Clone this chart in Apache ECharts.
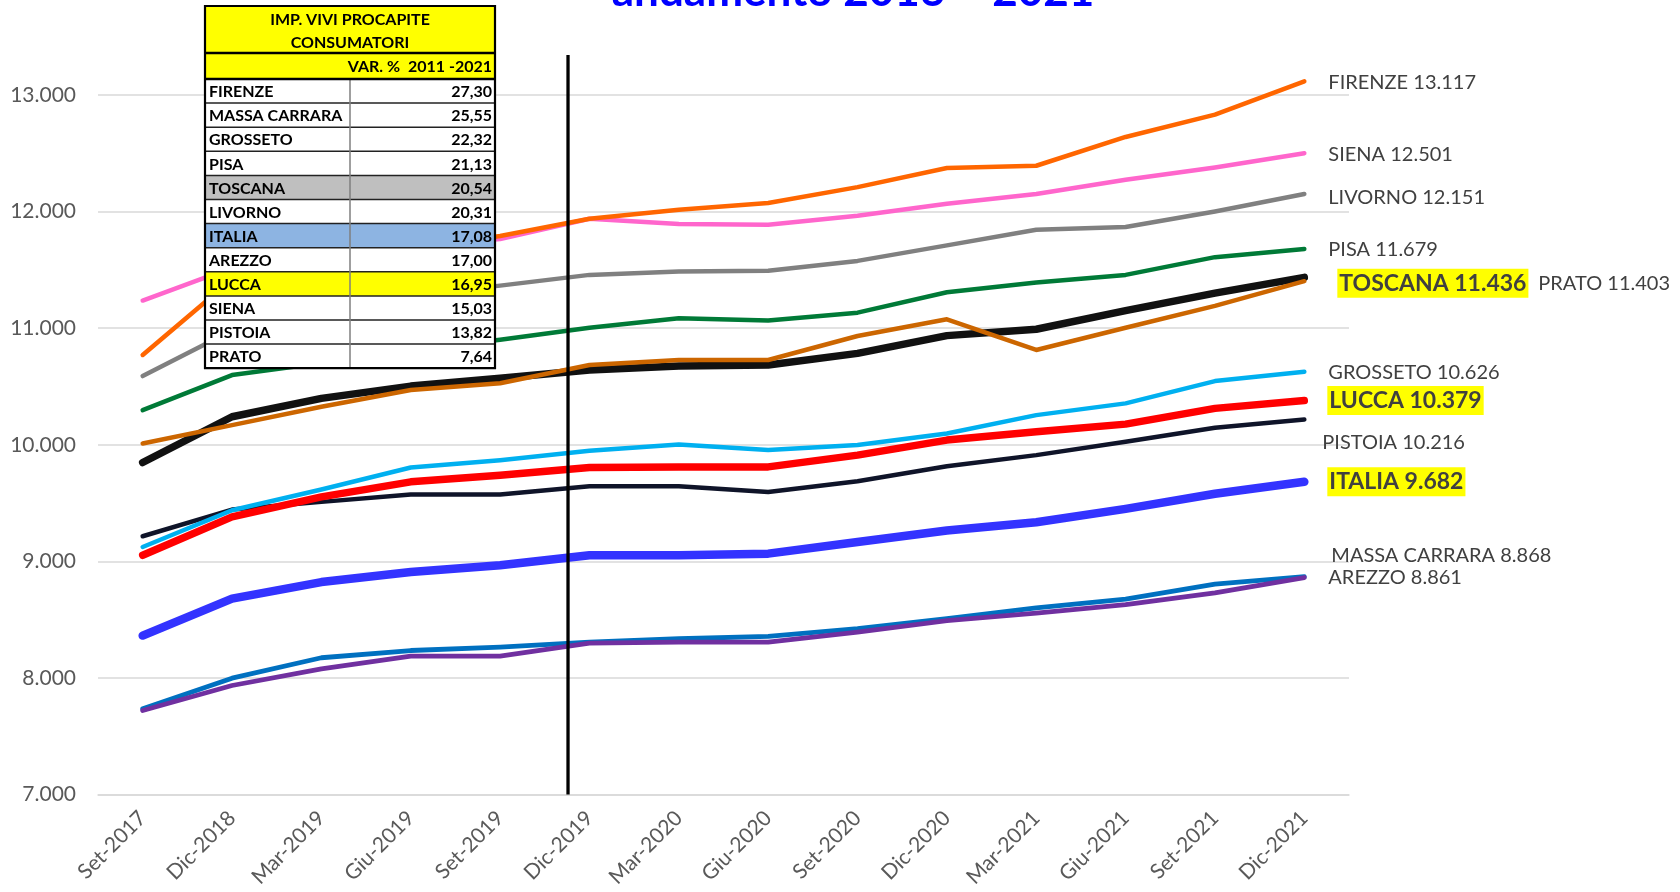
<!DOCTYPE html>
<html><head><meta charset="utf-8">
<script src="https://cdn.jsdelivr.net/npm/echarts@6/dist/echarts.min.js"></script>
<style>html,body{margin:0;padding:0;background:#fff}#c{width:1680px;height:892px}</style>
</head><body><div id="c"></div><script>
// ---------- DATA ----------
const categories = ['Set-2017','Dic-2018','Mar-2019','Giu-2019','Set-2019','Dic-2019','Mar-2020','Giu-2020','Set-2020','Dic-2020','Mar-2021','Giu-2021','Set-2021','Dic-2021'];
const firenze  = [10770, 11420, 11560, 11680, 11790, 11938, 12015, 12073, 12210, 12374, 12393, 12640, 12832, 13117];
const siena    = [11237, 11520, 11620, 11700, 11765, 11938, 11893, 11887, 11964, 12067, 12150, 12273, 12379, 12501];
const livorno  = [10589, 10980, 11150, 11280, 11365, 11457, 11486, 11492, 11577, 11710, 11844, 11867, 12001, 12151];
const pisa     = [10297, 10598, 10700, 10810, 10900, 11004, 11085, 11065, 11133, 11308, 11391, 11457, 11609, 11679];
const toscana  = [9848, 10240, 10398, 10503, 10570, 10641, 10675, 10684, 10784, 10936, 10991, 11150, 11300, 11436];
const prato    = [10011, 10168, 10326, 10469, 10527, 10684, 10727, 10727, 10933, 11076, 10813, 11004, 11191, 11403];
const grosseto = [9123, 9438, 9616, 9805, 9868, 9948, 10003, 9954, 9997, 10097, 10254, 10355, 10546, 10626];
const lucca    = [9052, 9381, 9553, 9682, 9739, 9805, 9810, 9810, 9911, 10040, 10111, 10177, 10312, 10379];
const pistoia  = [9215, 9444, 9510, 9573, 9573, 9644, 9644, 9595, 9687, 9816, 9911, 10025, 10145, 10216];
const italia   = [8363, 8680, 8822, 8908, 8966, 9052, 9052, 9066, 9166, 9264, 9335, 9450, 9580, 9682];
const massa    = [7735, 7998, 8173, 8235, 8264, 8307, 8336, 8356, 8422, 8509, 8601, 8675, 8804, 8868];
const arezzo   = [7720, 7935, 8078, 8187, 8187, 8298, 8307, 8307, 8393, 8491, 8555, 8629, 8730, 8861];
const yTicks = [7000, 8000, 9000, 10000, 11000, 12000, 13000];
const dividerAt = [4.76];   // position (in category index units) of the vertical black divider
const titleText = 'andamento 2016 \u2013 2021';
const tableTitle = ['IMP. VIVI PROCAPITE', 'CONSUMATORI'];
const tableSubtitle = 'VAR. %  2011 -2021';
const tableNames = ['FIRENZE','MASSA CARRARA','GROSSETO','PISA','TOSCANA','LIVORNO','ITALIA','AREZZO','LUCCA','SIENA','PISTOIA','PRATO'];
const tableValues = ['27,30','25,55','22,32','21,13','20,54','20,31','17,08','17,00','16,95','15,03','13,82','7,64'];

// ---------- STYLE ----------
const FONT = 'Lato, "Open Sans", sans-serif';
const seriesDefs = [
  {name:'SIENA',         data:siena,    color:'#FF66CC', width:4.5, dx:24, dy:1},
  {name:'FIRENZE',       data:firenze,  color:'#FF6600', width:4.5, dx:24, dy:1},
  {name:'LIVORNO',       data:livorno,  color:'#808080', width:4.5, dx:24, dy:4},
  {name:'PISA',          data:pisa,     color:'#007A37', width:4.5, dx:24, dy:1},
  {name:'TOSCANA',       data:toscana,  color:'#111111', width:7.5, dx:33, dy:6, bold:true},
  {name:'PRATO',         data:prato,    color:'#CC6600', width:4.5, dx:234, dy:2},
  {name:'PISTOIA',       data:pistoia,  color:'#0F1429', width:4.5, dx:18, dy:23},
  {name:'GROSSETO',      data:grosseto, color:'#00B0F0', width:4.5, dx:24, dy:1},
  {name:'LUCCA',         data:lucca,    color:'#FF0000', width:7.5, dx:23, dy:0, bold:true},
  {name:'ITALIA',        data:italia,   color:'#3333FF', width:8.5, dx:23, dy:0, bold:true},
  {name:'MASSA CARRARA', data:massa,    color:'#0070C0', width:4.8, dx:27, dy:-21},
  {name:'AREZZO',        data:arezzo,   color:'#7030A0', width:4.8, dx:24, dy:0}
];
const highlight = {TOSCANA:'#BFBFBF', ITALIA:'#8DB4E2', LUCCA:'#FFFF00'};

const fmt = v => String(v).replace(/\B(?=(\d{3})+(?!\d))/g, '.');

const series = seriesDefs.map(d => {
  const last = d.data.length - 1;
  const data = d.data.map((v, i) => i !== last ? v : {
    value: v,
    label: {
      show: true, position: 'right', distance: 0, offset: [d.dx, d.dy],
      formatter: p => d.name + ' ' + fmt(p.value),
      color: '#404040', fontFamily: FONT,
      fontSize: d.bold ? 23 : 20, fontWeight: d.bold ? 'bold' : 'normal',
      backgroundColor: d.bold ? '#FFFF00' : 'transparent',
      padding: d.bold ? [4, 2, 2, 2] : 0
    }
  });
  return {
    type: 'line', name: d.name, data, clip: false,
    showSymbol: true, symbol: 'circle', symbolSize: 0,
    itemStyle: {color: d.color},
    lineStyle: {color: d.color, width: d.width, cap: 'round', join: 'round'},
    emphasis: {disabled: true}, silent: true, z: 3
  };
});
series.push({
  type: 'line', xAxisIndex: 1, clip: false, silent: true, symbol: 'none', z: 4,
  data: [[dividerAt[0], yTicks[0]], [dividerAt[0], 13343]],
  lineStyle: {color: '#000', width: 3.3}
});

// ---------- TABLE (graphic) ----------
const T = {l: 205, r: 495, mid: 350, top: 6, h1: 53, h2: 79, rowH: 24.1};
const g = [];
const Z = 100;
g.push({type:'rect', z:Z, shape:{x:T.l, y:T.top, width:T.r-T.l, height:T.h2-T.top}, style:{fill:'#FFFF00'}});
tableNames.forEach((n, i) => {
  const y0 = T.h2 + i*T.rowH;
  g.push({type:'rect', z:Z, shape:{x:T.l, y:y0, width:T.r-T.l, height:T.rowH}, style:{fill: highlight[n] || '#FFFFFF'}});
});
const boldT = 'bold 16px ' + FONT;
const txt = (x, y, text, align) => ({type:'text', z:Z+2, x, y, style:{text, font:boldT, fill:'#000', align, verticalAlign:'middle', textAlign:align, textVerticalAlign:'middle'}});
g.push(txt(T.mid, 20, tableTitle[0], 'center'));
g.push(txt(T.mid, 43, tableTitle[1], 'center'));
g.push(txt(T.r-3, 67, tableSubtitle, 'right'));
tableNames.forEach((n, i) => {
  const yc = T.h2 + i*T.rowH + T.rowH/2 + 1;
  g.push(txt(T.l+4, yc, n, 'left'));
  g.push(txt(T.r-3, yc, tableValues[i], 'right'));
});
for (let i = 1; i < tableNames.length; i++) {
  const y = T.h2 + i*T.rowH;
  g.push({type:'line', z:Z+1, shape:{x1:T.l, y1:y, x2:T.r, y2:y}, style:{stroke:'#222', lineWidth:1.5}});
}
g.push({type:'line', z:Z+1, shape:{x1:T.mid, y1:T.h2, x2:T.mid, y2:T.h2 + tableNames.length*T.rowH}, style:{stroke:'#7F7F7F', lineWidth:1.5}});
g.push({type:'line', z:Z+1, shape:{x1:T.l, y1:T.h1, x2:T.r, y2:T.h1}, style:{stroke:'#000', lineWidth:2.5}});
g.push({type:'line', z:Z+1, shape:{x1:T.l, y1:T.h2, x2:T.r, y2:T.h2}, style:{stroke:'#000', lineWidth:2.5}});
g.push({type:'rect', z:Z+1, shape:{x:T.l, y:T.top, width:T.r-T.l, height:T.h2 - T.top + tableNames.length*T.rowH}, style:{fill:'none', stroke:'#000', lineWidth:2.2}});
// title (cut at top as in the original)
g.push({type:'text', z:Z, x:853, y:-8, style:{text:titleText, font:'bold 44px ' + FONT, fill:'#0000FF', align:'center', verticalAlign:'middle', textAlign:'center', textVerticalAlign:'middle'}});

const chart = echarts.init(document.getElementById('c'), null, {renderer:'canvas'});
chart.setOption({
  animation: false,
  backgroundColor: '#FFFFFF',
  grid: {left: 98, right: 331, top: 95, bottom: 97.5, containLabel: false},
  xAxis: [{
    type: 'category', data: categories, boundaryGap: true,
    axisLine: {show: true, lineStyle: {color: '#D9D9D9', width: 1.5}},
    axisTick: {show: false},
    axisLabel: {rotate: 45, margin: 20, color: '#595959', fontFamily: FONT, fontSize: 21, interval: 0}
  }, {
    type: 'value', min: -0.5, max: 13.5, show: false
  }],
  yAxis: {
    type: 'value', min: yTicks[0], max: yTicks[yTicks.length-1], interval: 1000,
    axisLine: {show: false}, axisTick: {show: false},
    splitLine: {lineStyle: {color: '#D9D9D9', width: 1.5}},
    axisLabel: {margin: 22, color: '#595959', fontFamily: FONT, fontSize: 21, formatter: v => fmt(v)}
  },
  series,
  graphic: g
});
</script></body></html>
